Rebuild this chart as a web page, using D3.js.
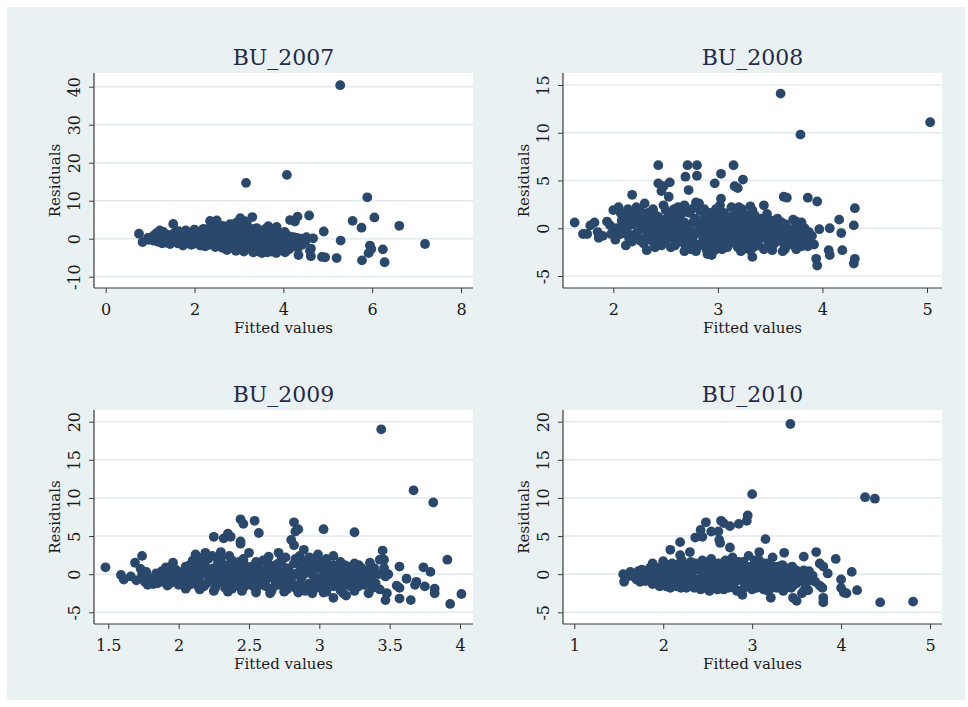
<!DOCTYPE html>
<html>
<head>
<meta charset="utf-8">
<script src="https://cdn.jsdelivr.net/npm/d3@7"></script>
<style>
  html, body { margin: 0; padding: 0; background: #ffffff; }
  svg { display: block; }
  text { font-family: "DejaVu Serif", serif; }
</style>
</head>
<body>
<svg id="chart" width="968" height="707"></svg>
<script>
// Residual-versus-fitted scatter plots, one panel per year: [fitted value, residual]
const bu2007 = [
  [5.28,40.4],[4.08,16.8],[3.16,14.7],[5.89,10.9],[6.05,5.6],[5.56,4.7],[5.76,2.9],[6.61,3.4],[7.19,-1.4],[4.91,1.9],
  [5.29,-0.5],[5.20,-5.1],[5.77,-5.7],[6.28,-6.2],[6.24,-2.8],[5.95,-1.8],[5.92,-3.8],[5.98,-2.7],[4.87,-4.8],[4.94,-4.9],
  [4.58,6.1],[4.32,5.8],[4.15,4.9],[4.26,4.5],[4.62,-4.6],[4.34,-4.3],[4.67,0.1],[4.62,-2.6],[4.60,-3.2],[1.52,3.9],
  [0.75,1.3],[0.83,-0.9],[2.35,4.7],[2.50,4.8],[3.03,5.4],[3.30,5.7],[3.18,3.9],[3.66,3.3],[3.85,3.1],[1.22,2.2],
  [0.95,0.2],[0.97,-0.3],[1.05,0.5],[1.07,-0.5],[1.10,1.0],[1.15,1.5],[1.16,0.0],[1.18,-0.8],[1.25,0.6],[1.27,-1.2],
  [1.30,1.8],[1.32,-0.2],[1.35,-1.0],[1.40,1.0],[1.42,0.2],[1.45,-1.4],[1.55,1.6],[1.56,-0.6],[1.60,0.8],[1.62,-1.2],
  [1.64,2.0],[1.70,1.2],[1.72,-0.2],[1.74,-1.8],[1.80,2.2],[1.82,0.4],[1.84,-1.0],[1.90,1.6],[1.91,-0.6],[1.93,-1.6],
  [1.95,0.8],[2.00,2.4],[2.01,0.2],[2.03,-1.2],[2.05,1.0],[2.10,1.8],[2.11,-0.4],[2.13,-1.8],[2.15,0.8],[2.20,2.6],
  [2.21,0.6],[2.23,-1.0],[2.24,-2.0],[2.30,1.4],[2.31,-0.4],[2.33,-1.6],[2.34,2.8],[2.45,3.2],[2.44,1.0],[2.46,-1.0],
  [2.47,-2.2],[2.52,0.2],[2.55,2.0],[2.58,-1.6],[2.60,2.2],[2.61,-0.6],[2.63,-2.4],[2.64,3.4],[2.70,1.2],[2.71,-1.4],
  [2.73,-3.0],[2.74,2.6],[2.80,3.8],[2.81,0.4],[2.83,-2.2],[2.84,-0.8],[2.90,2.0],[2.91,-0.4],[2.93,-3.2],[2.94,4.2],
  [3.00,1.2],[3.01,-1.6],[3.02,-2.8],[3.04,0.0],[3.08,3.0],[3.10,-0.6],[3.11,-3.4],[3.12,1.8],[3.13,4.6],[3.20,2.4],
  [3.21,-1.0],[3.22,-2.4],[3.24,0.6],[3.30,1.4],[3.31,-0.2],[3.32,-3.6],[3.34,-1.8],[3.40,2.8],[3.41,0.2],[3.42,-2.6],
  [3.44,-3.4],[3.50,1.6],[3.51,-1.2],[3.52,-3.8],[3.54,0.4],[3.60,2.6],[3.61,-0.4],[3.62,-2.8],[3.64,-3.6],[3.70,1.2],
  [3.71,-1.6],[3.73,-3.4],[3.75,0.0],[3.80,2.4],[3.81,0.2],[3.82,-2.4],[3.84,-3.8],[3.90,1.4],[3.91,-1.0],[3.93,-3.0],
  [4.00,0.4],[4.01,-2.0],[4.03,1.8],[4.04,-3.6],[4.10,0.8],[4.11,-1.2],[4.13,-2.8],[4.20,-0.4],[4.21,-2.0],[4.23,0.4],
  [4.30,-1.0],[4.31,0.2],[4.33,-2.4],[4.40,0.0],[4.42,-1.6],[4.50,-0.6],[4.52,0.4],
  [2.40,0.0],[2.56,1.0],[2.66,0.2],[2.76,-0.2],[2.86,1.0],[2.96,0.6],[3.06,-1.2],[3.16,0.4],[3.26,-0.8],[3.36,0.8],
  [3.46,-0.6],[3.56,-2.2],[3.66,0.8],[3.76,-1.0],[3.86,-1.6],[3.96,-0.2],[2.26,0.0],[2.16,-0.8],[2.06,-0.4],[1.96,0.0],
  [1.86,-0.2],[1.76,0.4],[1.66,0.0],[1.50,0.4],[1.36,0.4],[2.36,0.8],[2.50,-0.4],[2.68,-0.4],
  [1.26,0.4],[1.46,-0.4],[1.58,-0.2],[1.68,0.8],[1.78,-0.8],[1.88,0.6],[1.98,-0.8],[2.08,1.4],[2.18,-1.4],[2.28,0.6],
  [2.38,-1.2],[2.48,1.8],[2.58,0.0],[2.78,1.6],[2.88,-1.6],[2.98,2.6],[3.08,0.6],[3.18,-2.0],[3.28,2.6],[3.38,-1.2],
  [3.48,0.0],[3.58,-1.4],[3.68,-2.4],[3.78,1.2],[3.88,0.4],[3.98,-1.2],[4.08,-2.0],[4.18,0.4],[4.28,-1.8],[4.38,-0.8]
];

const bu2008 = [
  [3.60,14.1],[5.03,11.1],[3.79,9.8],[2.43,6.6],[2.71,6.6],[2.80,6.6],[3.15,6.6],[2.69,5.4],[2.80,5.5],[3.03,5.7],
  [3.24,5.1],[2.97,4.7],[2.43,4.7],[2.48,4.4],[2.54,4.8],[2.46,3.9],[2.72,4.0],[3.16,4.4],[3.19,4.2],[2.53,3.3],
  [3.03,3.1],[3.63,3.3],[3.66,3.2],[3.86,3.2],[3.95,2.8],[2.18,3.5],[2.79,2.7],[2.82,2.6],[4.31,2.1],[4.16,0.9],
  [4.07,0.0],[3.97,-0.1],[4.18,-0.5],[4.30,0.3],[4.19,-2.3],[4.06,-2.3],[4.07,-2.8],[3.94,-3.2],[3.95,-3.9],[4.31,-3.2],
  [4.30,-3.7],[1.63,0.6],[1.71,-0.6],[1.78,0.3],[1.82,0.6],[1.94,0.7],[2.32,-2.3],[2.90,-2.7],[2.92,-2.4],[3.33,-3.0],
  [3.31,-2.3],[3.19,-2.0],[3.44,2.4],[3.47,1.5],[3.31,2.3],[3.33,1.9],[3.72,0.9],[3.75,0.7],[3.92,-1.7],[3.80,-1.9],
  [2.30,2.6],[2.05,2.2],[2.00,1.9],
  [1.75,-0.6],[1.85,-0.4],[1.86,-1.0],[1.90,-0.8],[1.97,0.3],[1.98,-0.6],[2.02,-1.2],[2.03,0.0],[2.07,-0.6],[2.08,0.8],
  [2.12,1.2],[2.12,-1.8],[2.13,-0.2],[2.18,-1.4],[2.18,0.4],[2.19,1.4],[2.22,2.2],[2.23,-0.4],[2.23,-1.0],[2.28,1.0],
  [2.28,0.0],[2.29,-1.6],[2.33,1.6],[2.33,-0.6],[2.34,-1.2],[2.38,2.0],[2.38,0.6],[2.39,-1.6],[2.43,1.2],[2.43,-0.2],
  [2.44,-1.2],[2.48,2.4],[2.48,0.4],[2.49,-1.4],[2.49,-0.6],[2.53,1.6],[2.53,-0.2],[2.54,-1.0],[2.58,2.0],[2.58,0.8],
  [2.59,-1.8],[2.59,-0.6],[2.63,1.2],[2.63,0.0],[2.64,-1.4],[2.68,2.4],[2.68,0.6],[2.69,-0.8],[2.69,-1.8],[2.73,1.6],
  [2.73,-0.2],[2.74,-2.2],[2.74,-1.2],[2.78,1.0],[2.78,-0.6],[2.79,-2.4],[2.83,1.8],[2.83,0.4],[2.84,-1.6],[2.88,1.4],
  [2.88,-0.4],[2.89,-2.2],[2.89,0.6],[2.93,1.0],[2.93,-1.0],[2.94,-2.8],[2.94,-0.2],[2.98,2.0],[2.98,0.4],[2.99,-1.6],
  [3.03,1.6],[3.03,-0.6],[3.04,-2.2],[3.04,0.2],[3.08,0.8],[3.08,-1.2],[3.09,-2.0],[3.13,2.2],[3.13,0.0],[3.14,-1.0],
  [3.14,1.2],[3.18,1.4],[3.18,-0.4],[3.19,-1.6],[3.23,2.0],[3.23,0.6],[3.24,-1.0],[3.28,1.0],[3.28,-0.6],[3.29,-1.6],
  [3.33,0.6],[3.33,-0.8],[3.34,-2.0],[3.34,0.2],[3.38,0.2],[3.38,-1.2],[3.39,-1.8],[3.43,0.6],[3.43,-0.4],[3.44,-2.2],
  [3.48,0.0],[3.48,-1.4],[3.53,0.8],[3.53,-0.8],[3.54,-1.6],[3.58,0.2],[3.58,-1.2],[3.63,-0.2],[3.63,-1.6],[3.64,-2.2],
  [3.68,-0.6],[3.68,-1.2],[3.73,0.0],[3.73,-1.8],[3.74,-0.8],[3.78,-0.4],[3.78,-1.4],[3.83,0.0],[3.83,-0.8],[3.84,-1.8],
  [3.87,-0.4],[3.87,-1.2],
  [2.05,-0.2],[2.10,0.4],[2.15,-1.0],[2.16,0.9],[2.20,-0.7],[2.25,0.5],[2.26,-1.3],[2.31,0.3],[2.31,-0.9],[2.36,1.1],
  [2.36,-0.3],[2.41,-0.9],[2.41,0.2],[2.46,0.8],[2.46,-1.8],[2.51,1.0],[2.51,-0.9],[2.56,-0.3],[2.56,1.3],[2.61,-1.1],
  [2.61,0.4],[2.66,1.6],[2.66,-0.4],[2.71,0.2],[2.71,-1.5],[2.76,0.6],[2.76,-1.0],[2.81,-0.2],[2.81,-1.9],[2.86,0.9],
  [2.86,-1.1],[2.91,0.2],[2.91,-1.6],[2.96,1.4],[2.96,-0.6],[3.01,-1.2],[3.01,0.8],[3.06,-0.2],[3.06,1.6],[3.11,-1.6],
  [3.11,0.4],[3.16,-0.8],[3.16,0.9],[3.21,-1.4],[3.21,0.0],[3.26,1.4],[3.26,-0.2],[3.31,-1.2],[3.31,0.9],[3.36,-0.4],
  [3.41,-1.0],[3.41,1.0],[3.46,-0.8],[3.51,-0.2],[3.51,-1.9],[3.56,-0.4],[3.61,0.6],[3.61,-0.9],[3.66,-0.2],[3.71,-1.3],
  [3.76,0.3],[3.81,-1.1],[3.86,-1.9],[3.90,-0.8],
  [2.07,1.6],[2.14,2.0],[2.21,1.0],[2.26,1.8],[2.35,0.0],[2.40,1.4],[2.45,-0.6],[2.50,1.9],[2.55,0.2],[2.60,-1.3],
  [2.62,2.2],[2.65,0.6],[2.70,-0.6],[2.75,2.0],[2.77,-1.6],[2.80,0.8],[2.85,-0.6],[2.87,2.0],[2.90,-1.4],[2.92,1.6],
  [2.95,0.8],[3.00,-0.2],[3.02,2.4],[3.05,-1.6],[3.10,1.2],[3.12,-0.6],[3.17,0.2],[3.20,2.2],[3.22,-1.8],[3.27,0.2],
  [3.30,-0.4],[3.35,1.4],[3.37,-1.5],[3.40,0.4],[3.45,0.9],[3.47,-2.0],[3.50,0.4],[3.55,-1.2],[3.57,1.0],[3.60,-0.2],
  [3.62,-2.4],[3.65,0.4],[3.70,-0.4],[3.75,-2.2],[3.80,0.6],[3.85,-1.4],[3.66,-1.8],[3.52,-2.3],[3.22,-2.4],[2.97,-2.3],
  [2.68,-2.4],[2.55,-2.0],[2.40,-2.0],[2.95,-1.9],[3.26,-2.1]
];

const bu2009 = [
  [3.44,19.0],[3.67,11.0],[3.81,9.4],[1.48,0.9],[1.69,1.5],[1.74,2.4],[1.73,0.7],[1.59,-0.1],[1.61,-0.7],[1.91,0.9],
  [1.96,1.5],[2.44,7.2],[2.46,6.6],[2.54,7.0],[2.57,5.4],[2.82,6.8],[2.85,5.9],[2.83,5.6],[3.03,5.9],[3.25,5.5],
  [2.25,4.9],[2.32,4.7],[2.35,5.3],[2.37,4.9],[2.44,4.3],[2.44,4.0],[2.50,2.8],[2.71,2.8],[2.80,4.5],[2.82,3.8],
  [2.89,3.2],[3.10,2.4],[3.10,1.2],[3.45,3.1],[3.43,1.9],[3.46,1.9],[3.36,1.5],[3.28,1.2],[3.57,1.0],[3.74,0.9],
  [3.91,1.9],[3.79,0.3],[3.62,-0.6],[3.69,-1.0],[3.68,-1.4],[3.75,-1.6],[3.82,-1.9],[3.82,-2.5],[4.01,-2.6],[3.93,-3.9],
  [3.65,-3.4],[3.57,-3.2],[3.47,-3.4],[3.48,-2.5],[3.55,-1.5],[3.57,-1.8],[3.35,-2.5],[3.36,-0.6],[3.10,-3.1],[3.19,-2.8],
  [3.17,-2.5],[3.49,0.0],[3.46,0.8],[3.47,-0.3],[3.38,-1.8],[3.43,-2.0],[2.19,2.8],[2.12,2.6],[2.30,2.9],[2.36,2.4],
  [2.99,2.6],[2.93,2.2],
  [1.66,-0.3],[1.70,-0.8],[1.74,-0.1],[1.76,-1.0],[1.80,-0.6],[1.82,-1.3],[1.84,0.1],[1.87,-0.9],[1.90,-0.3],[1.92,-1.5],
  [1.95,0.4],[1.97,-0.8],[2.00,-1.4],[2.01,0.2],[2.03,-0.5],[2.05,1.0],[2.06,-1.6],[2.08,0.0],[2.10,1.8],[2.10,-0.9],
  [2.12,0.8],[2.14,-1.6],[2.15,-0.3],[2.17,1.4],[2.18,0.4],[2.20,-1.2],[2.21,2.0],[2.23,-0.4],[2.25,0.8],[2.26,-1.8],
  [2.28,1.6],[2.29,-0.8],[2.31,0.2],[2.33,-1.4],[2.34,1.2],[2.36,-0.2],[2.38,-1.9],[2.40,0.6],[2.41,-1.0],[2.43,1.6],
  [2.45,-0.4],[2.47,-1.6],[2.48,0.4],[2.50,-1.2],[2.52,1.0],[2.53,-0.2],[2.55,-2.0],[2.57,0.6],[2.58,-0.9],[2.60,1.8],
  [2.62,-1.6],[2.63,0.0],[2.65,1.2],[2.66,-2.2],[2.68,-0.6],[2.70,0.8],[2.72,-1.4],[2.73,1.6],[2.75,-0.2],[2.77,-2.0],
  [2.78,0.6],[2.80,-1.0],[2.82,1.4],[2.83,-1.8],[2.85,0.2],[2.87,-0.6],[2.88,1.8],[2.90,-2.2],[2.92,0.8],[2.93,-1.2],
  [2.95,0.0],[2.97,1.4],[2.98,-1.8],[3.00,-0.6],[3.02,0.6],[3.03,-2.4],[3.05,-1.0],[3.07,1.2],[3.08,-0.2],[3.10,-1.6],
  [3.12,0.4],[3.14,-0.8],[3.16,0.8],[3.18,-1.4],[3.20,-0.2],[3.22,0.6],[3.24,-1.0],[3.26,0.2],[3.28,-1.6],[3.30,-0.4],
  [3.33,0.4],[3.35,-1.2],
  [1.77,0.3],[1.78,-1.4],[1.83,-0.5],[1.85,-1.2],[1.88,0.4],[1.89,-1.0],[1.93,-0.2],[1.94,-1.2],[1.98,0.6],[1.99,-0.6],
  [2.02,-1.0],[2.04,0.5],[2.07,-0.4],[2.08,1.2],[2.09,-1.3],[2.12,-0.2],[2.13,1.6],[2.14,-1.0],[2.17,0.2],[2.18,-1.6],
  [2.19,1.0],[2.22,-0.8],[2.23,0.6],[2.24,2.4],[2.27,-1.2],[2.27,0.2],[2.28,1.0],[2.32,-0.4],[2.32,0.9],[2.33,-1.8],
  [2.37,0.4],[2.37,-1.0],[2.38,1.8],[2.42,-0.3],[2.42,0.9],[2.43,-1.6],[2.47,0.2],[2.47,1.2],[2.48,-1.0],[2.52,-0.6],
  [2.52,0.4],[2.53,-1.6],[2.57,1.4],[2.57,-0.3],[2.58,-1.4],[2.62,0.6],[2.62,-0.8],[2.63,2.0],[2.67,-0.2],[2.67,0.9],
  [2.68,-1.6],[2.72,0.2],[2.72,-0.8],[2.73,1.9],[2.77,0.8],[2.77,-1.2],[2.78,-0.3],[2.82,0.0],[2.82,-1.4],[2.83,2.0],
  [2.87,1.0],[2.87,-1.4],[2.88,-0.2],[2.92,0.2],[2.92,-1.8],[2.93,1.4],[2.97,-0.4],[2.97,0.6],[2.98,-1.2],[3.02,1.6],
  [3.02,-1.6],[3.03,0.0],[3.07,0.4],[3.07,-1.4],[3.08,-0.6],[3.12,1.0],[3.12,-1.2],[3.13,-0.2],[3.17,0.2],[3.17,-1.0],
  [3.18,1.2],[3.22,-0.6],[3.22,-1.6],[3.23,0.9],[3.27,0.6],[3.27,-0.9],[3.32,-0.2],[3.32,-1.4],[3.37,0.4],[3.37,-0.8],
  [3.40,-1.2],[3.42,0.0],
  [2.05,-1.9],[2.15,-2.0],[2.25,-2.2],[2.35,-2.3],[2.45,-2.2],[2.55,-2.4],[2.65,-2.5],[2.75,-2.3],[2.85,-2.4],[2.95,-2.5],
  [3.05,-2.3],[3.15,-2.1],[3.25,-2.2],[2.11,1.3],[2.16,2.1],[2.30,2.1],[2.40,1.3],[2.46,2.0],[2.55,1.6],[2.64,2.3],
  [2.70,1.3],[2.76,2.2],[2.86,2.4],[2.95,1.9],[3.05,2.0],[3.15,1.6],[3.20,1.0],[3.25,1.4],[3.30,0.8],[3.34,-0.6],
  [3.39,0.8],[3.05,0.3],[2.90,0.5],[2.80,-0.4],[2.70,-0.2],[2.60,0.2],[2.50,0.0],[2.40,-0.5],[2.30,-0.2],[2.20,0.0]
];

const bu2010 = [
  [3.43,19.7],[3.00,10.5],[4.27,10.1],[4.38,9.9],[2.95,7.7],[2.94,7.0],[2.85,6.6],[2.75,6.3],[2.65,7.0],[2.68,6.7],
  [2.48,6.8],[2.42,5.8],[2.44,4.9],[2.36,4.8],[2.54,5.6],[2.62,5.6],[2.63,4.5],[2.64,4.1],[2.19,4.2],[2.75,3.5],
  [3.15,4.6],[3.08,2.9],[3.23,2.2],[3.36,2.8],[3.58,2.3],[3.72,2.9],[3.94,2.0],[3.76,1.4],[3.80,1.0],[3.85,0.1],
  [4.12,0.3],[4.00,-0.7],[4.00,-1.8],[4.03,-2.4],[4.06,-2.5],[4.18,-2.1],[4.44,-3.7],[4.81,-3.6],[3.80,-3.1],[3.80,-3.7],
  [3.71,-1.0],[3.76,-1.5],[3.79,-1.8],[3.50,-3.5],[3.46,-3.1],[3.56,-2.5],[3.63,-2.1],[3.58,-2.2],[3.21,-3.1],[2.89,-2.7],
  [2.08,3.2],[2.19,2.5],[2.30,2.9],[1.55,0.0],[1.56,-1.0],[1.66,0.1],[1.70,-0.7],[1.76,0.6],[1.88,1.4],[2.00,1.7],
  [1.60,-0.3],[1.63,0.3],[1.68,-0.4],[1.72,0.4],[1.74,-1.0],[1.78,-0.2],[1.80,-0.9],[1.83,0.5],[1.86,-0.5],[1.88,-1.3],
  [1.90,0.2],[1.92,0.9],[1.94,-0.8],[1.96,-1.6],[1.98,0.0],[2.00,1.0],[2.02,-1.2],[2.04,-0.3],[2.06,0.6],[2.08,-1.8],
  [2.10,1.4],[2.11,-0.8],[2.13,0.2],[2.15,-1.6],[2.17,0.9],[2.19,-0.3],[2.21,1.8],[2.22,-1.2],[2.24,0.4],[2.26,-1.8],
  [2.28,1.2],[2.30,-0.6],[2.32,0.2],[2.34,-1.6],[2.36,1.4],[2.38,-0.8],[2.40,0.6],[2.42,-2.0],[2.44,1.8],[2.46,-0.2],
  [2.48,-1.2],[2.50,0.8],[2.52,-2.2],[2.54,2.0],[2.56,-0.6],[2.58,0.4],[2.60,-1.6],[2.62,1.4],[2.64,-0.8],[2.66,0.0],
  [2.68,-2.0],[2.70,1.8],[2.72,-1.2],[2.74,0.6],[2.76,-0.4],[2.78,2.2],[2.80,-1.8],[2.82,1.0],[2.84,-0.8],[2.86,0.2],
  [2.88,-2.2],[2.90,1.6],[2.92,-1.2],[2.94,0.4],[2.96,2.4],[2.98,-0.6],[3.00,-2.0],[3.02,1.2],[3.04,-1.2],[3.06,0.0],
  [3.08,1.8],[3.10,-1.6],[3.12,0.6],[3.14,-0.6],[3.16,1.4],[3.18,-2.2],[3.20,0.2],[3.22,-1.2],[3.24,1.0],[3.26,-0.4],
  [3.28,-1.8],[3.30,0.6],[3.32,-0.8],[3.34,1.2],[3.36,-1.6],[3.38,0.0],[3.40,-0.8],[3.42,0.8],[3.44,-1.8],[3.46,-0.2],
  [3.48,0.6],[3.50,-1.2],[3.52,0.2],[3.55,-0.6],[3.58,0.5],[3.60,-1.4],[3.62,0.0],[3.65,-0.8],
  [1.82,-0.2],[1.85,0.8],[1.87,-1.0],[1.91,-0.4],[1.93,0.5],[1.95,-1.2],[1.99,-0.6],[2.01,0.4],[2.03,-1.6],[2.05,1.2],
  [2.07,-0.8],[2.09,0.2],[2.12,-1.4],[2.14,0.6],[2.16,-0.4],[2.18,1.4],[2.20,-1.8],[2.23,-0.6],[2.25,0.8],[2.27,-1.2],
  [2.29,0.0],[2.31,1.6],[2.33,-0.4],[2.35,-1.8],[2.37,0.6],[2.39,-1.2],[2.41,1.2],[2.43,-0.4],[2.45,0.2],[2.47,-1.8],
  [2.49,1.6],[2.51,-0.8],[2.53,0.4],[2.55,-1.4],[2.57,1.0],[2.59,-0.2],[2.61,-2.0],[2.63,0.6],[2.65,-1.2],[2.67,1.4],
  [2.69,-0.4],[2.71,0.2],[2.73,-1.8],[2.75,1.2],[2.77,-1.0],[2.79,0.4],[2.81,-0.2],[2.83,-2.2],[2.85,1.6],[2.87,-0.4],
  [2.89,0.8],[2.91,-1.8],[2.93,-0.2],[2.95,1.0],[2.97,-1.4],[2.99,0.6],[3.01,-0.4],[3.03,1.8],[3.05,-1.8],[3.07,0.8],
  [3.09,-0.8],[3.11,0.2],[3.13,-2.0],[3.15,0.6],[3.17,-1.0],[3.19,1.2],[3.21,-0.4],[3.23,-1.8],[3.25,0.4],[3.27,-0.8],
  [3.29,1.0],[3.31,-1.4],[3.33,0.0],[3.35,-2.2],[3.37,0.8],[3.39,-1.2],[3.41,0.2],[3.43,-0.6],[3.45,1.0],[3.47,-1.4],
  [3.49,-0.4],[3.51,0.4],[3.53,-0.8],[3.57,0.2],[3.60,-0.6],[3.64,0.4],[3.68,-0.2]
];

// Panel titles and axis tick values
const panelTitles = ["BU_2007", "BU_2008", "BU_2009", "BU_2010"];
const xTicks2007 = [0, 2, 4, 6, 8];
const yTicks2007 = [-10, 0, 10, 20, 30, 40];
const xTicks2008 = [2, 3, 4, 5];
const yTicks2008 = [-5, 0, 5, 10, 15];
const xTicks2009 = [1.5, 2, 2.5, 3, 3.5, 4];
const yTicks2009 = [-5, 0, 5, 10, 15, 20];
const xTicks2010 = [1, 2, 3, 4, 5];
const yTicks2010 = [-5, 0, 5, 10, 15, 20];
const xAxisTitle = "Fitted values";
const yAxisTitle = "Residuals";

const panels = [
  { title: panelTitles[0], data: bu2007, xTicks: xTicks2007, yTicks: yTicks2007 },
  { title: panelTitles[1], data: bu2008, xTicks: xTicks2008, yTicks: yTicks2008 },
  { title: panelTitles[2], data: bu2009, xTicks: xTicks2009, yTicks: yTicks2009 },
  { title: panelTitles[3], data: bu2010, xTicks: xTicks2010, yTicks: yTicks2010 }
];

// Plot-region boxes and the inset of the outer ticks from each box edge
const boxes = [
  { left: 94,  top: 73,  right: 473, bottom: 288, padL: 11.7, padR: 12,   padT: 13.7, padB: 11.3 },
  { left: 563, top: 73,  right: 942, bottom: 288, padL: 50.3, padR: 15,   padT: 12,   padB: 12 },
  { left: 94,  top: 410, right: 473, bottom: 624, padL: 14.3, padR: 13,   padT: 11.7, padB: 11.7 },
  { left: 563, top: 410, right: 942, bottom: 624, padL: 11.3, padR: 12,   padT: 11.7, padB: 11.7 }
];

const colors = {
  outer: "#eaf1f3",
  plot: "#ffffff",
  grid: "#e2eaee",
  axis: "#3a3a3a",
  marker: "#2a486c",
  title: "#1f2b48",
  text: "#1a1a1a"
};

const svg = d3.select("#chart");

svg.append("rect")
  .attr("x", 7).attr("y", 7)
  .attr("width", 958).attr("height", 693)
  .attr("fill", colors.outer);

panels.forEach((p, i) => {
  const b = boxes[i];
  const g = svg.append("g");

  const x = d3.scaleLinear()
    .domain([p.xTicks[0], p.xTicks[p.xTicks.length - 1]])
    .range([b.left + b.padL, b.right - b.padR]);
  const y = d3.scaleLinear()
    .domain([p.yTicks[0], p.yTicks[p.yTicks.length - 1]])
    .range([b.bottom - b.padB, b.top + b.padT]);

  // plot region
  g.append("rect")
    .attr("x", b.left).attr("y", b.top)
    .attr("width", b.right - b.left).attr("height", b.bottom - b.top)
    .attr("fill", colors.plot);

  // horizontal grid lines at each y tick
  g.append("g").selectAll("line")
    .data(p.yTicks)
    .join("line")
    .attr("x1", b.left + 1).attr("x2", b.right)
    .attr("y1", d => y(d)).attr("y2", d => y(d))
    .attr("stroke", colors.grid)
    .attr("stroke-width", 1.6);

  // scatter points
  g.append("g").selectAll("circle")
    .data(p.data)
    .join("circle")
    .attr("cx", d => x(d[0]))
    .attr("cy", d => y(d[1]))
    .attr("r", 4.9)
    .attr("fill", colors.marker);

  // x axis
  const xAxis = g.append("g")
    .attr("transform", `translate(0,${b.bottom})`)
    .call(d3.axisBottom(x).tickValues(p.xTicks).tickSize(5).tickFormat(d => String(d)));
  xAxis.select(".domain").remove();
  xAxis.selectAll(".tick line").attr("stroke", colors.axis);
  xAxis.selectAll(".tick text")
    .attr("y", 27).attr("dy", 0)
    .attr("fill", colors.text)
    .style("font-family", '"DejaVu Serif", serif')
    .style("font-size", "16px");

  // y axis with upright-rotated labels
  const yAxis = g.append("g")
    .attr("transform", `translate(${b.left},0)`)
    .call(d3.axisLeft(y).tickValues(p.yTicks).tickSize(5).tickFormat(d => String(d)));
  yAxis.select(".domain").remove();
  yAxis.selectAll(".tick line").attr("stroke", colors.axis);
  yAxis.selectAll(".tick text")
    .attr("x", 0).attr("y", 0).attr("dy", 0)
    .attr("transform", "translate(-14,0) rotate(-90)")
    .attr("text-anchor", "middle")
    .attr("fill", colors.text)
    .style("font-family", '"DejaVu Serif", serif')
    .style("font-size", "16px");

  // axis lines along the plot region edges
  g.append("line")
    .attr("x1", b.left).attr("x2", b.right)
    .attr("y1", b.bottom).attr("y2", b.bottom)
    .attr("stroke", colors.axis).attr("stroke-width", 1.2);
  g.append("line")
    .attr("x1", b.left).attr("x2", b.left)
    .attr("y1", b.top).attr("y2", b.bottom)
    .attr("stroke", colors.axis).attr("stroke-width", 1.2);

  // axis titles
  g.append("text")
    .attr("x", (b.left + b.right) / 2)
    .attr("y", b.bottom + 45)
    .attr("text-anchor", "middle")
    .attr("fill", colors.text)
    .style("font-size", "15px")
    .text(xAxisTitle);
  g.append("text")
    .attr("transform", `translate(${b.left - 34},${(b.top + b.bottom) / 2}) rotate(-90)`)
    .attr("text-anchor", "middle")
    .attr("fill", colors.text)
    .style("font-size", "15px")
    .text(yAxisTitle);

  // panel title
  g.append("text")
    .attr("x", (b.left + b.right) / 2)
    .attr("y", b.top - 8)
    .attr("text-anchor", "middle")
    .attr("fill", colors.title)
    .style("font-size", "22px")
    .text(p.title);
});
</script>
</body>
</html>
